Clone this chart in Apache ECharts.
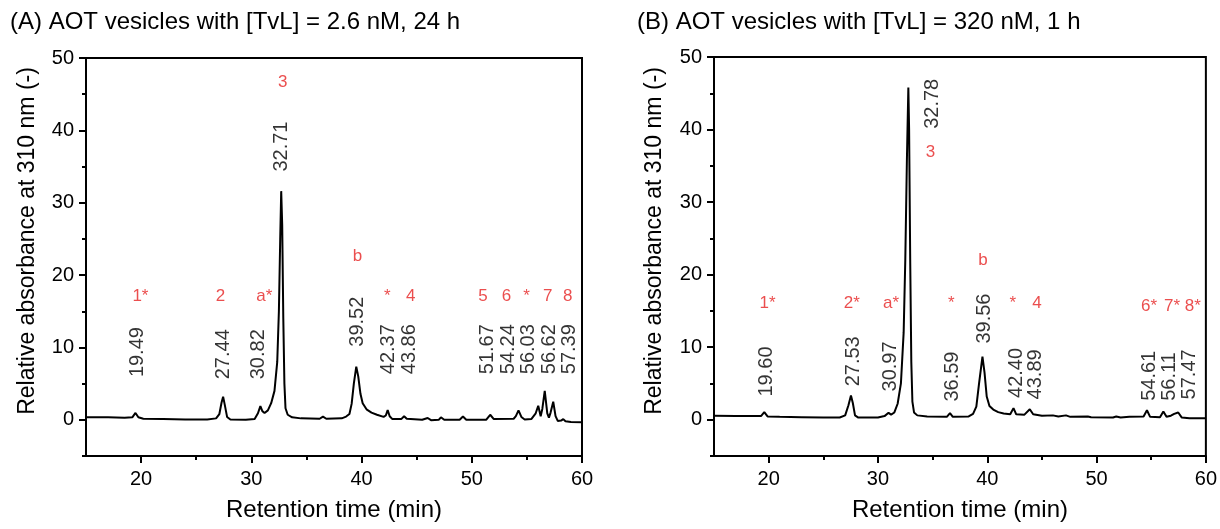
<!DOCTYPE html>
<html><head><meta charset="utf-8">
<script src="https://cdn.jsdelivr.net/npm/echarts@6/dist/echarts.min.js"></script>
<style>html,body{margin:0;padding:0;background:#fff}#c{width:1220px;height:529px}</style>
</head><body><div id="c"></div><script>
const FONT = '"Liberation Sans", Arial, Helvetica, sans-serif';
const RED = '#e62222';

// Axis ticks
const xMajorTicks = [20, 30, 40, 50, 60];
const xMinorTicks = [25, 35, 45, 55];
const yMajorTicks = [0, 10, 20, 30, 40, 50];
const yMinorTicks = [-5, 5, 15, 25, 35, 45];

// Chromatogram (A): [retention time (min), absorbance]
const traceA = [
  [15,0.35],[17,0.35],[18.5,0.3],[19.2,0.35],[19.49,0.95],[19.75,0.35],[20.2,0.15],[22,0.1],[24,0.05],[26,0.05],
  [26.8,0.2],[27.1,0.8],[27.3,2.4],[27.44,3.2],[27.6,2.0],[27.8,0.4],[28.1,0.05],[29.5,0.0],[30.3,0.1],[30.6,0.9],
  [30.82,1.9],[31.0,1.2],[31.2,0.95],[31.5,1.3],[31.8,2.3],[32.1,4.0],[32.35,8],[32.5,15],[32.62,25],[32.71,31.6],
  [32.8,27],[32.9,14],[33.0,5],[33.1,1.6],[33.3,0.7],[33.7,0.35],[34.5,0.2],[36.2,0.15],[36.5,0.45],[36.8,0.15],
  [38.2,0.2],[38.6,0.45],[38.9,0.8],[39.1,2.2],[39.3,5],[39.52,7.35],[39.7,6],[39.9,3.6],[40.1,2.3],[40.45,1.45],
  [40.9,1.0],[41.4,0.7],[42.0,0.4],[42.2,0.6],[42.37,1.35],[42.55,0.5],[42.8,0.1],[43.6,0.1],[43.86,0.5],[44.1,0.15],
  [45.5,0.0],[46.0,0.25],[46.3,-0.05],[47.0,0.0],[47.2,0.35],[47.5,0.0],[48.9,0.0],[49.2,0.45],[49.5,0.0],[51.3,0.0],
  [51.67,0.7],[52.0,0.1],[53.8,0.15],[54.0,0.5],[54.24,1.3],[54.5,0.4],[54.8,0.05],[55.4,0.1],[55.8,0.9],[56.03,1.95],
  [56.25,0.5],[56.4,1.5],[56.62,4.0],[56.85,0.9],[57.0,0.3],[57.15,1.0],[57.39,2.5],[57.6,0.5],[57.8,-0.15],[58.1,-0.1],
  [58.3,0.1],[58.5,-0.2],[59.0,-0.3],[60,-0.35]
];
// Chromatogram (B)
const traceB = [
  [15,0.55],[17,0.5],[19.3,0.5],[19.6,1.05],[19.9,0.45],[21,0.4],[23,0.35],[25,0.3],[26.5,0.3],[27.0,0.6],
  [27.3,2.0],[27.53,3.35],[27.7,2.3],[27.9,0.6],[28.2,0.3],[30,0.3],[30.6,0.5],[30.97,0.95],[31.2,0.7],[31.5,1.0],
  [31.8,2.2],[32.1,5],[32.35,12],[32.5,22],[32.65,36],[32.78,45.8],[32.85,40],[32.95,22],[33.05,8],[33.15,2.5],
  [33.3,1.0],[33.6,0.6],[34.5,0.45],[36.3,0.4],[36.59,0.9],[36.85,0.4],[38.3,0.45],[38.7,0.8],[39.0,1.8],[39.25,5],
  [39.56,8.7],[39.75,6.5],[39.95,3.2],[40.2,1.9],[40.55,1.4],[41.0,1.05],[41.5,0.85],[42.1,0.75],[42.4,1.6],[42.65,0.75],
  [43.4,0.7],[43.89,1.45],[44.2,0.75],[45.0,0.55],[46.0,0.6],[46.5,0.45],[47.2,0.6],[47.6,0.4],[49.2,0.45],[49.5,0.35],
  [51.5,0.3],[51.8,0.45],[52.2,0.3],[53.0,0.4],[54.3,0.45],[54.61,1.3],[54.9,0.4],[55.8,0.35],[56.11,1.15],[56.4,0.4],
  [56.8,0.55],[57.1,0.8],[57.47,1.0],[57.8,0.3],[58.5,0.2],[60,0.2]
];

// Peak retention-time labels (black, rotated) and their anchors in data units
const peakTextA = ['19.49','27.44','30.82','32.71','39.52','42.37','43.86','51.67','54.24','56.03','56.62','57.39'];
const peakAnchorA = [[19.71,5.9],[27.51,5.6],[30.68,5.6],[32.77,34.3],[39.66,10.1],[42.47,6.3],[44.37,6.3],
  [51.43,6.3],[53.29,6.3],[55.1,6.3],[57.07,6.3],[58.88,6.3]];
const peakTextB = ['19.60','27.53','30.97','32.78','36.59','39.56','42.40','43.89','54.61','56.11','57.47'];
const peakAnchorB = [[19.8,3.2],[27.75,4.6],[31.15,3.9],[35.0,40.1],[36.8,2.5],[39.75,10.5],[42.7,3.0],[44.4,2.8],
  [54.85,2.6],[56.65,2.6],[58.5,2.8]];

// Compound labels (red) and anchors in data units
const tagTextA = ['1*','2','a*','3','b','*','4','5','6','*','7','8'];
const tagAnchorA = [[19.94,17.1],[27.19,17.1],[31.18,17.1],[32.85,46.6],[39.64,22.6],[42.33,17.1],[44.45,17.1],
  [51.02,17.1],[53.14,17.1],[54.98,17.1],[56.89,17.1],[58.7,17.1]];
const tagTextB = ['1*','2*','a*','3','b','*','*','4','6*','7*','8*'];
const tagAnchorB = [[19.9,16.0],[27.6,16.0],[31.2,16.0],[34.8,36.9],[39.6,22.0],[36.7,16.0],[42.33,16.0],[44.55,16.0],
  [54.8,15.6],[56.9,15.6],[58.8,15.6]];

const titles = ['(A) AOT vesicles with [TvL] = 2.6 nM, 24 h', '(B) AOT vesicles with [TvL] = 320 nM, 1 h'];
const xName = 'Retention time (min)';
const yName = 'Relative absorbance at 310 nm (-)';

const grids = [
  {left: 86, top: 58, width: 496, height: 398},
  {left: 714, top: 57, width: 495, height: 399}
];

const xAxes = [], yAxes = [], series = [];
const axisLineStyle = {color: '#000', width: 2};
grids.forEach((g, i) => {
  xAxes.push({
    gridIndex: i, type: 'value', min: 15, max: 60, position: 'bottom',
    axisLine: {show: true, onZero: false, lineStyle: axisLineStyle},
    axisTick: {show: true, customValues: xMajorTicks, length: 7, lineStyle: {color: '#000', width: 2}},
    axisLabel: {show: true, customValues: xMajorTicks, color: '#000', fontSize: 20, fontFamily: FONT, margin: 13},
    splitLine: {show: false},
    name: xName, nameLocation: 'middle', nameGap: 42,
    nameTextStyle: {color: '#000', fontSize: 24, fontFamily: FONT}
  });
  xAxes.push({
    gridIndex: i, type: 'value', min: 15, max: 60, position: 'bottom',
    axisLine: {show: false, onZero: false},
    axisTick: {show: true, customValues: xMinorTicks, length: 4, lineStyle: {color: '#000', width: 2}},
    axisLabel: {show: false}, splitLine: {show: false}
  });
  yAxes.push({
    gridIndex: i, type: 'value', min: -5, max: 50, position: 'left',
    axisLine: {show: true, onZero: false, lineStyle: axisLineStyle},
    axisTick: {show: true, customValues: yMajorTicks, length: 7, lineStyle: {color: '#000', width: 2}},
    axisLabel: {show: true, customValues: yMajorTicks, color: '#000', fontSize: 20, fontFamily: FONT, margin: 12},
    splitLine: {show: false}
  });
  yAxes.push({
    gridIndex: i, type: 'value', min: -5, max: 50, position: 'left',
    axisLine: {show: false, onZero: false},
    axisTick: {show: true, customValues: yMinorTicks, length: 4, lineStyle: {color: '#000', width: 2}},
    axisLabel: {show: false}, splitLine: {show: false}
  });
});

function addPanel(i, trace, pText, pAnchor, tText, tAnchor) {
  const xi = i * 2, yi = i * 2;
  series.push({
    type: 'line', xAxisIndex: xi, yAxisIndex: yi, data: trace,
    symbol: 'none', showSymbol: false, smooth: false,
    lineStyle: {color: '#000', width: 2}, silent: true, z: 3
  });
  series.push({
    type: 'scatter', xAxisIndex: xi, yAxisIndex: yi,
    data: pAnchor.map((p, k) => [p[0], p[1], pText[k]]),
    symbolSize: 1, itemStyle: {color: 'rgba(0,0,0,0)'}, silent: true, z: 4,
    label: {show: true, position: 'inside', rotate: 90, align: 'left', verticalAlign: 'middle',
      formatter: p => p.value[2], color: '#000', fontSize: 20, fontFamily: FONT}
  });
  series.push({
    type: 'scatter', xAxisIndex: xi, yAxisIndex: yi,
    data: tAnchor.map((p, k) => [p[0], p[1], tText[k]]),
    symbolSize: 1, itemStyle: {color: 'rgba(0,0,0,0)'}, silent: true, z: 4,
    label: {show: true, position: 'inside', align: 'center', verticalAlign: 'middle',
      formatter: p => p.value[2], color: RED, fontSize: 17, fontFamily: FONT}
  });
}
addPanel(0, traceA, peakTextA, peakAnchorA, tagTextA, tagAnchorA);
addPanel(1, traceB, peakTextB, peakAnchorB, tagTextB, tagAnchorB);

const chart = echarts.init(document.getElementById('c'), null, {renderer: 'canvas'});
chart.setOption({
  animation: false,
  backgroundColor: '#fff',
  grid: grids.map(g => Object.assign({show: true, borderColor: '#000', borderWidth: 2, backgroundColor: 'rgba(0,0,0,0)'}, g)),
  xAxis: xAxes,
  yAxis: yAxes,
  series: series,
  title: [
    {text: titles[0], left: 10, top: 10, padding: 0, textStyle: {color: '#000', fontSize: 24, fontWeight: 'normal', fontFamily: FONT}},
    {text: titles[1], left: 637, top: 10, padding: 0, textStyle: {color: '#000', fontSize: 24, fontWeight: 'normal', fontFamily: FONT}}
  ],
  graphic: [
    {type: 'text', x: 28, y: 241, rotation: Math.PI / 2, silent: true,
      style: {text: yName, fill: '#000', font: '23px ' + FONT, align: 'center', verticalAlign: 'middle', textAlign: 'center', textVerticalAlign: 'middle'}},
    {type: 'text', x: 655, y: 241, rotation: Math.PI / 2, silent: true,
      style: {text: yName, fill: '#000', font: '23px ' + FONT, align: 'center', verticalAlign: 'middle', textAlign: 'center', textVerticalAlign: 'middle'}}
  ]
});
</script></body></html>
